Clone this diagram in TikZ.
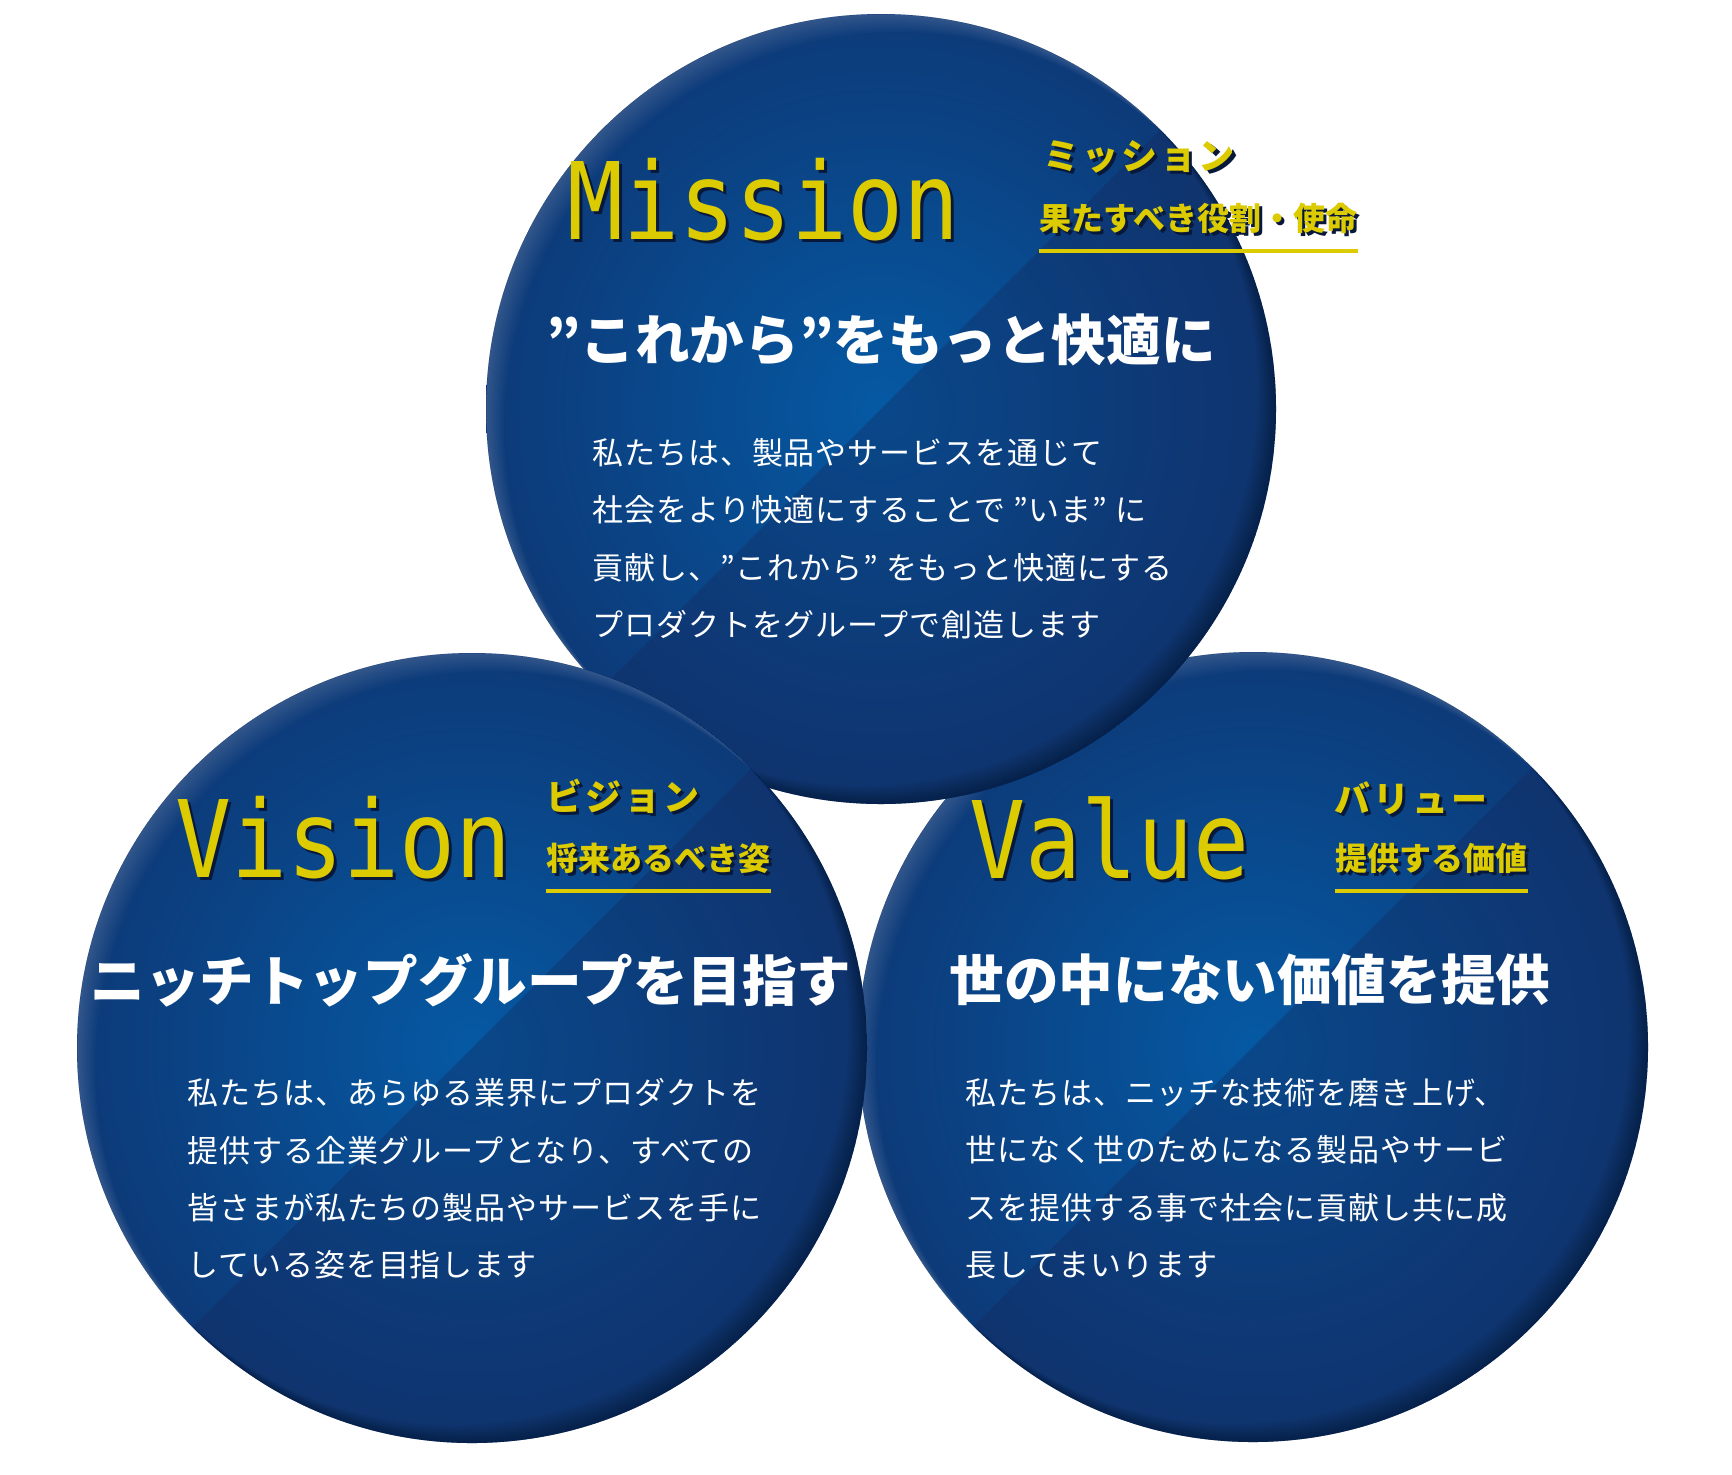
\documentclass[tikz,border=0pt]{standalone}
\usepackage{fontspec}
\usetikzlibrary{positioning}
\newfontfamily\latinfont[FakeStretch=0.87]{DejaVu Sans Mono}
\newfontfamily\jpfont{Noto Sans CJK JP}
\definecolor{orbhi}{HTML}{0559A3}
\definecolor{orblo}{HTML}{0D3A78}
\definecolor{orbdark}{HTML}{14285C}
\definecolor{gold}{HTML}{DCCB00}
\definecolor{goldshade}{HTML}{08183A}
% yellow letters carry a dark shadow to the lower right
\newcommand{\shadowed}[1]{\makebox[0pt][l]{\hspace{1.6pt}\raisebox{-1.6pt}{\color{goldshade}#1}}#1}

\begin{document}
\begin{tikzpicture}[x=0.5pt,y=-0.5pt,
	bigword/.style={font=\latinfont\fontsize{53.5}{54}\selectfont, text=gold, inner sep=0pt, anchor=base west},
	kanatag/.style={font=\jpfont\bfseries\fontsize{18}{18}\selectfont\addfontfeatures{LetterSpace=8}, text=gold, inner sep=0pt, anchor=west},
	roletag/.style={font=\jpfont\bfseries\fontsize{16}{16}\selectfont, text=gold, inner sep=0pt, anchor=west},
	uline/.style={draw=gold, line width=2pt},
	headline/.style={font=\jpfont\bfseries\fontsize{27.3}{27.3}\selectfont, text=white, inner sep=0pt},
	body/.style={font=\jpfont\fontsize{15.5}{28.7}\selectfont\addfontfeatures{LetterSpace=3}, text=white, align=left, anchor=north west, inner sep=0pt}]

	\fill[white] (0,0) rectangle (1732,1474);
	\useasboundingbox (0,0) rectangle (1732,1474);

	\coordinate (valC) at (1253,1047);
	\coordinate (misC) at (881,409);
	\coordinate (visC) at (472,1048);

	% the three orbs, back to front
	\foreach \c in {valC,misC,visC}{
		\shade[inner color=orbhi, outer color=orblo] (\c) circle (395);
		\begin{scope}
			\clip (\c) circle (395);
			\fill[orbdark, opacity=.35] (\c) ++(-420,420) -- ++(840,-840) -- ++(0,840) -- cycle;
			\foreach \d in {2,4,...,18}{
				\fill[black, opacity=.035, even odd rule] (\c) circle (395) ++(-\d,-\d) circle (395);
				\fill[white, opacity=.02, even odd rule] (\c) circle (395) ++(\d,\d) circle (395);
			}
		\end{scope}
	}

	% Mission
	\node[bigword] (misword) at (567,239) {\shadowed{Mission}};
	\node[kanatag] (miskana) at (1043,158) {\shadowed{ミッション}};
	\node[roletag] (misrole) at (1039,220) {\shadowed{果たすべき役割・使命}};
	\draw[uline] ([yshift=-7pt]misrole.south west) -- ([yshift=-7pt]misrole.south east);
	\node[headline] (mishead) at (881,340) {”これから”をもっと快適に};
	\node[body] (mistext) at (592,438) {私たちは、製品やサービスを通じて\\社会をより快適にすることで ”いま” に\\貢献し、”これから” をもっと快適にする\\プロダクトをグループで創造します};

	% Vision
	\node[bigword] (visword) at (175,877) {\shadowed{Vision}};
	\node[kanatag] (viskana) at (546,798) {\shadowed{ビジョン}};
	\node[roletag] (visrole) at (546,860) {\shadowed{将来あるべき姿}};
	\draw[uline] ([yshift=-7pt]visrole.south west) -- ([yshift=-7pt]visrole.south east);
	\node[headline] (vishead) at (471,980) {ニッチトップグループを目指す};
	\node[body] (vistext) at (187,1078) {私たちは、あらゆる業界にプロダクトを\\提供する企業グループとなり、すべての\\皆さまが私たちの製品やサービスを手に\\している姿を目指します};

	% Value
	\node[bigword] (valword) at (969,878) {\shadowed{Value}};
	\node[kanatag] (valkana) at (1334,800) {\shadowed{バリュー}};
	\node[roletag] (valrole) at (1335,860) {\shadowed{提供する価値}};
	\draw[uline] ([yshift=-7pt]valrole.south west) -- ([yshift=-7pt]valrole.south east);
	\node[headline] (valhead) at (1250,980) {世の中にない価値を提供};
	\node[body] (valtext) at (965,1078) {私たちは、ニッチな技術を磨き上げ、\\世になく世のためになる製品やサービ\\スを提供する事で社会に貢献し共に成\\長してまいります};
\end{tikzpicture}
\end{document}
